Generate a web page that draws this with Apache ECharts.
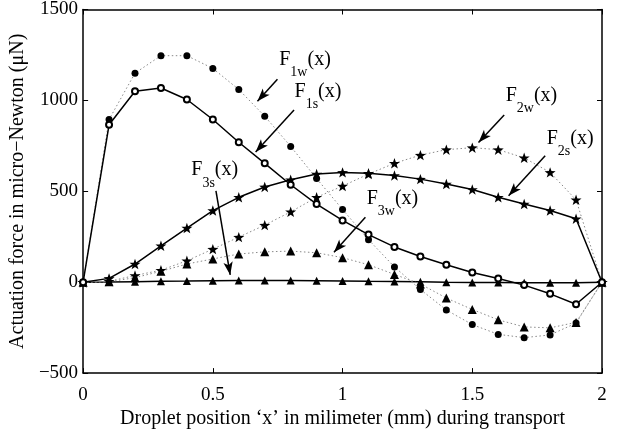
<!DOCTYPE html>
<html>
<head>
<meta charset="utf-8">
<script src="https://cdn.jsdelivr.net/npm/echarts@6/dist/echarts.min.js"></script>
<style>html,body{margin:0;padding:0;background:#fff}#c{width:624px;height:434px}</style>
</head>
<body>
<div id="c"></div>
<script>
var xs = [0,0.1,0.2,0.3,0.4,0.5,0.6,0.7,0.8,0.9,1.0,1.1,1.2,1.3,1.4,1.5,1.6,1.7,1.8,1.9,2.0];
var F1w = [0, 895, 1150, 1246, 1246, 1176, 1060, 913, 747, 570, 400, 234, 84, -40, -153, -233, -287, -305, -290, -225, 0];
var F1s = [0, 866, 1050, 1068, 1005, 895, 770, 654, 536, 430, 340, 262, 194, 141, 96, 53, 20, -16, -64, -121, 0];
var F2w = [0, 5, 37, 66, 118, 182, 248, 314, 387, 467, 529, 595, 654, 699, 729, 740, 729, 684, 604, 453, 0];
var F2s = [0, 21, 100, 200, 298, 394, 467, 524, 563, 595, 604, 599, 587, 567, 540, 510, 467, 430, 394, 349, 0];
var F3w = [0, 2, 25, 60, 100, 128, 155, 167, 171, 162, 135, 96, 43, -10, -87, -150, -207, -246, -251, -221, 0];
var F3s = [0, 1, 3, 5, 6, 8, 9, 9, 9, 8, 7, 5, 4, 2, 0, -1, -2, -3, -3, -3, 0];
var xTicks = [0, 0.5, 1, 1.5, 2];
var yTicks = [-500, 0, 500, 1000, 1500];

// annotation labels: [subscript, x, y]
var labels = [
  ['1w', 0.754, 1225],
  ['1s', 0.813, 1050],
  ['3s', 0.415, 618],
  ['3w', 1.091, 460],
  ['2w', 1.627, 1026],
  ['2s', 1.785, 791]
];
// arrows: [x0, y0, x1, y1]
var arrows = [
  [0.749, 1116, 0.672, 995],
  [0.813, 947, 0.665, 716],
  [0.512, 503, 0.567, 40],
  [1.088, 357, 0.967, 165],
  [1.623, 920, 1.524, 769],
  [1.781, 695, 1.640, 476]
];

var FONT = 'Liberation Serif';
var star = 'path://M0,-10 L2.35,-3.24 9.51,-3.09 3.8,1.24 5.88,8.09 0,4 -5.88,8.09 -3.8,1.24 -9.51,-3.09 -2.35,-3.24Z';
function pairs(arr){ return xs.map(function(x,i){ return [x, arr[i]]; }); }
var dotted = {color:'#8a8a8a', width:1, type:[1.5,2.5]};
var solid = {color:'#000', width:1.5};

var chart = echarts.init(document.getElementById('c'), null, {renderer:'canvas'});
var axisBase = {
  axisLine:{show:true, onZero:false, lineStyle:{color:'#000', width:1.5}},
  axisTick:{show:true, inside:true, length:5, lineStyle:{color:'#000', width:1}},
  splitLine:{show:false}
};
var opt = {
  animation:false,
  backgroundColor:'#fff',
  grid:{left:82, right:22, top:8, bottom:51, containLabel:false},
  xAxis:[
    Object.assign({type:'value', position:'bottom', min:0, max:2, interval:0.5,
      axisLabel:{color:'#000', fontFamily:FONT, fontSize:19, margin:12,
        formatter:function(v){ return xTicks.indexOf(v)>=0 ? String(v) : ''; }},
      name:'Droplet position \u2018x\u2019 in milimeter (mm) during transport',
      nameLocation:'middle', nameGap:30,
      nameTextStyle:{color:'#000', fontFamily:FONT, fontSize:20}
    }, axisBase),
    Object.assign({type:'value', position:'top', min:0, max:2, interval:0.5,
      axisLabel:{show:false}}, axisBase)
  ],
  yAxis:[
    Object.assign({type:'value', position:'left', min:-500, max:1500, interval:500,
      axisLabel:{color:'#000', fontFamily:FONT, fontSize:19, margin:5,
        formatter:function(v){ return yTicks.indexOf(v)>=0 ? String(v).replace('-', '\u2212') : ''; }},
      name:'Actuation force in micro\u2212Newton (\u03bcN)',
      nameLocation:'middle', nameGap:44, nameRotate:90,
      nameTextStyle:{color:'#000', fontFamily:FONT, fontSize:20}
    }, axisBase),
    Object.assign({type:'value', position:'right', min:-500, max:1500, interval:500,
      axisLabel:{show:false}}, axisBase)
  ],
  series:[
    {name:'F3s', type:'line', data:pairs(F3s), symbol:'triangle', symbolSize:8,
      itemStyle:{color:'#000'}, lineStyle:solid},
    {name:'F3w', type:'line', data:pairs(F3w), symbol:'triangle', symbolSize:9,
      itemStyle:{color:'#000'}, lineStyle:dotted},
    {name:'F2w', type:'line', data:pairs(F2w), symbol:star, symbolSize:11, symbolKeepAspect:true,
      itemStyle:{color:'#000'}, lineStyle:dotted},
    {name:'F2s', type:'line', data:pairs(F2s), symbol:star, symbolSize:11, symbolKeepAspect:true,
      itemStyle:{color:'#000'}, lineStyle:solid},
    {name:'F1w', type:'line', data:pairs(F1w), symbol:'circle', symbolSize:7,
      itemStyle:{color:'#000'}, lineStyle:dotted},
    {name:'F1s', type:'line', data:pairs(F1s), symbol:'emptyCircle', symbolSize:6,
      itemStyle:{color:'#000', borderWidth:1}, lineStyle:solid},
    {name:'annot', type:'line', data:[], silent:true,
      markLine:{silent:true, symbol:['none','arrow'], symbolSize:[7,13], animation:false,
        lineStyle:{color:'#000', width:1.5, type:'solid'}, label:{show:false},
        emphasis:{disabled:true},
        data: arrows.map(function(a){ return [{coord:[a[0],a[1]]},{coord:[a[2],a[3]]}]; })},
      markPoint:{silent:true, symbol:'circle', symbolSize:1, itemStyle:{color:'rgba(0,0,0,0)'},
        animation:false,
        data: labels.map(function(l){ return {coord:[l[1], l[2]],
          label:{show:true, position:'right', distance:0,
            formatter:'{m|F}{s|'+l[0]+'}{m|(x)}',
            rich:{
              m:{fontFamily:FONT, fontSize:20, color:'#000', lineHeight:20, verticalAlign:'top'},
              s:{fontFamily:FONT, fontSize:14, color:'#000', lineHeight:14, verticalAlign:'top', padding:[16,0,0,0]}
            }}}; })}
    }
  ]
};
chart.setOption(opt);
</script>
</body>
</html>
